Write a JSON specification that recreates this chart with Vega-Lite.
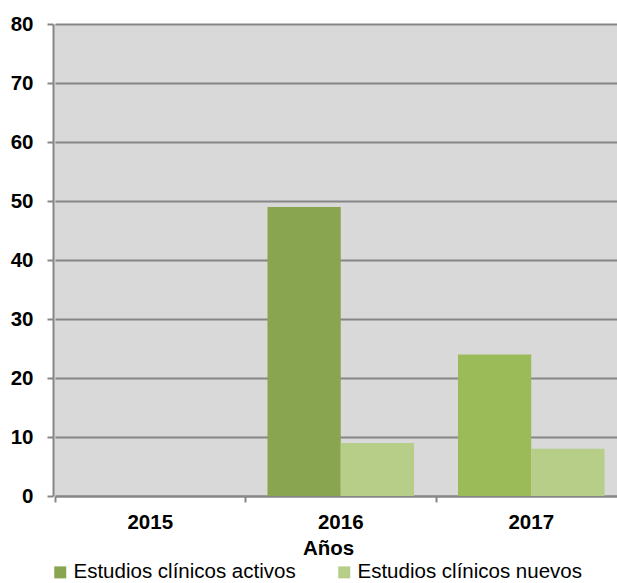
{
  "$schema": "https://vega.github.io/schema/vega-lite/v6.json",
  "autosize": "none",
  "width": 564,
  "height": 472,
  "padding": {"left": 53, "top": 24, "right": 0, "bottom": 87},
  "background": "white",
  "config": {
    "font": "Liberation Sans",
    "view": {"fill": "#d9d9d9", "stroke": null}
  },
  "data": {
    "values": [
      {"year": "2015", "serie": "Estudios clínicos activos", "value": 0},
      {"year": "2015", "serie": "Estudios clínicos nuevos", "value": 0},
      {"year": "2016", "serie": "Estudios clínicos activos", "value": 49},
      {"year": "2016", "serie": "Estudios clínicos nuevos", "value": 9},
      {"year": "2017", "serie": "Estudios clínicos activos", "value": 24},
      {"year": "2017", "serie": "Estudios clínicos nuevos", "value": 8}
    ]
  },
  "mark": {"type": "bar"},
  "encoding": {
    "x": {
      "field": "year",
      "type": "nominal",
      "scale": {"range": [2, 573.5], "paddingInner": 0, "paddingOuter": 0},
      "axis": {
        "title": "Años",
        "labelAngle": 0,
        "labelFontSize": 20.5,
        "labelFontWeight": "bold",
        "labelColor": "#000000",
        "labelPadding": 10,
        "bandPosition": 0,
        "tickSize": 6,
        "tickWidth": 2,
        "tickColor": "#868686",
        "domainColor": "#868686",
        "domainWidth": 2,
        "grid": false,
        "titleFontSize": 20.5,
        "titleFontWeight": "bold",
        "titleColor": "#000000",
        "titleX": 275,
        "titleY": 58,
        "titleBaseline": "alphabetic"
      }
    },
    "xOffset": {
      "field": "serie",
      "type": "nominal",
      "scale": {"paddingInner": 0, "paddingOuter": 0.3}
    },
    "y": {
      "field": "value",
      "type": "quantitative",
      "scale": {"domain": [0, 80], "nice": false},
      "axis": {
        "title": null,
        "values": [0, 10, 20, 30, 40, 50, 60, 70, 80],
        "labelFontSize": 20.5,
        "labelFontWeight": "bold",
        "labelColor": "#000000",
        "labelPadding": 14,
        "tickSize": 6,
        "tickWidth": 2,
        "tickColor": "#868686",
        "domainColor": "#868686",
        "domainWidth": 2,
        "gridColor": "#868686",
        "gridWidth": 2
      }
    },
    "color": {
      "condition": {
        "test": "datum.year == '2017' && datum.serie == 'Estudios clínicos activos'",
        "value": "#9bbb59"
      },
      "field": "serie",
      "type": "nominal",
      "scale": {
        "domain": ["Estudios clínicos activos", "Estudios clínicos nuevos"],
        "range": ["#8aa54f", "#b6ce88"]
      },
      "legend": {
        "title": null,
        "orient": "none",
        "direction": "horizontal",
        "legendX": -3,
        "legendY": 538,
        "symbolType": "square",
        "symbolSize": 144,
        "symbolStrokeWidth": 0,
        "symbolOpacity": 1,
        "labelFontSize": 20.5,
        "labelColor": "#000000",
        "labelLimit": 400,
        "labelOffset": 3,
        "columnPadding": 38
      }
    }
  }
}
